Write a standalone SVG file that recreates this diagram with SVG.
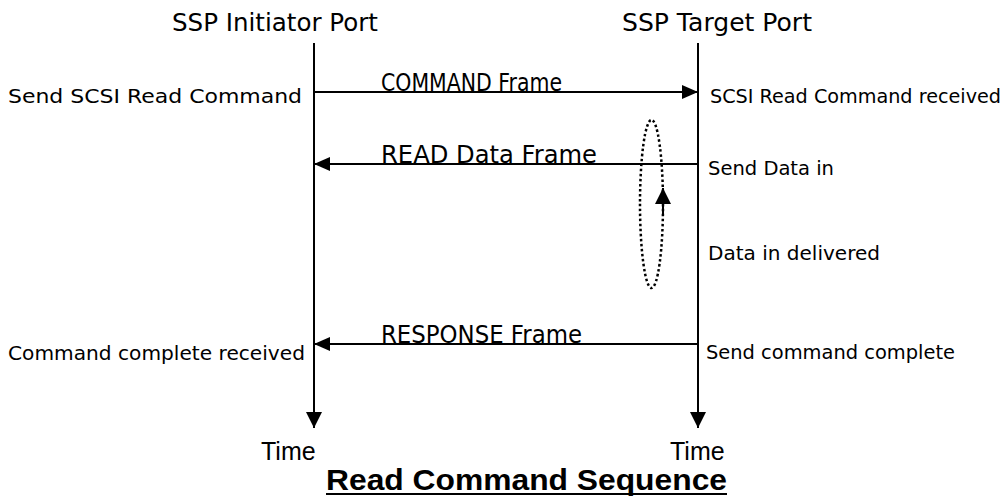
<svg xmlns="http://www.w3.org/2000/svg" width="1006" height="496" viewBox="0 0 1006 496">
  <style>
    .lbl { font-family: "DejaVu Sans", "Noto Sans", sans-serif; fill: #000; }
    .hdr { font-size: 24px; }
    .frm { font-size: 24px; }
    .sml { font-size: 19px; }
    .time { font-family: "Liberation Sans", Arial, sans-serif; font-size: 25px; fill: #000; }
    .cap { font-family: "Liberation Sans", Arial, sans-serif; font-size: 30px; font-weight: bold; fill: #000; }
    .line { stroke: #000; stroke-width: 2; fill: none; }
  </style>
  <defs>
    <marker id="head" viewBox="0 0 16 14" refX="16" refY="7" markerWidth="16" markerHeight="14" markerUnits="userSpaceOnUse" orient="auto">
      <path d="M0,0 L16,7 L0,14 Z" fill="#000"/>
    </marker>
    <marker id="head-big" viewBox="0 0 16 16" refX="16" refY="8" markerWidth="16" markerHeight="16" markerUnits="userSpaceOnUse" orient="auto">
      <path d="M0,0 L16,8 L0,16 Z" fill="#000"/>
    </marker>
  </defs>
  <rect width="1006" height="496" fill="#fff"/>

  <!-- lifeline headers -->
  <g id="initiator">
    <text class="lbl hdr" x="172" y="31" textLength="206" lengthAdjust="spacingAndGlyphs">SSP Initiator Port</text>
  </g>
  <g id="target">
    <text class="lbl hdr" x="622" y="31" textLength="190" lengthAdjust="spacingAndGlyphs">SSP Target Port</text>
  </g>

  <!-- connectors: lifelines, frames and the data-in loop -->
  <g id="connectors">
    <line class="line" x1="314" y1="43" x2="314" y2="428" marker-end="url(#head-big)"/>
    <line class="line" x1="698" y1="43" x2="698" y2="428" marker-end="url(#head-big)"/>
    <line class="line" x1="314" y1="92" x2="698" y2="92" marker-end="url(#head)"/>
    <line class="line" x1="698" y1="164" x2="314" y2="164" marker-end="url(#head)"/>
    <line class="line" x1="698" y1="344" x2="314" y2="344" marker-end="url(#head)"/>
    <ellipse cx="651.5" cy="204" rx="11.5" ry="84" fill="none" stroke="#000" stroke-width="2.5" stroke-dasharray="2.5 2.5"/>
    <line class="line" x1="663" y1="216" x2="663" y2="188" stroke-width="2.5" marker-end="url(#head-big)"/>
  </g>

  <!-- frame labels -->
  <g id="command-frame">
    <text class="lbl frm" x="381" y="91" textLength="181" lengthAdjust="spacingAndGlyphs">COMMAND Frame</text>
  </g>
  <g id="read-data-frame">
    <text class="lbl frm" x="381" y="163" textLength="216" lengthAdjust="spacingAndGlyphs">READ Data Frame</text>
  </g>
  <g id="response-frame">
    <text class="lbl frm" x="381" y="343" textLength="201" lengthAdjust="spacingAndGlyphs">RESPONSE Frame</text>
  </g>

  <!-- event labels -->
  <g id="send-read-command">
    <text class="lbl sml" x="8" y="103" textLength="294" lengthAdjust="spacingAndGlyphs">Send SCSI Read Command</text>
  </g>
  <g id="read-command-received">
    <text class="lbl sml" x="710" y="103" textLength="291" lengthAdjust="spacingAndGlyphs">SCSI Read Command received</text>
  </g>
  <g id="send-data-in">
    <text class="lbl sml" x="708" y="175" textLength="126" lengthAdjust="spacingAndGlyphs">Send Data in</text>
  </g>
  <g id="data-in-delivered">
    <text class="lbl sml" x="708" y="260" textLength="172" lengthAdjust="spacingAndGlyphs">Data in delivered</text>
  </g>
  <g id="send-command-complete">
    <text class="lbl sml" x="706" y="359" textLength="249" lengthAdjust="spacingAndGlyphs">Send command complete</text>
  </g>
  <g id="command-complete-received">
    <text class="lbl sml" x="8" y="360" textLength="297" lengthAdjust="spacingAndGlyphs">Command complete received</text>
  </g>

  <!-- time axes -->
  <g id="time-left">
    <text class="time" x="261" y="460">Time</text>
  </g>
  <g id="time-right">
    <text class="time" x="670" y="460">Time</text>
  </g>

  <!-- caption -->
  <g id="caption">
    <text class="cap" x="326" y="490" textLength="401" lengthAdjust="spacingAndGlyphs">Read Command Sequence</text>
    <line x1="326" y1="494" x2="727" y2="494" stroke="#000" stroke-width="2"/>
  </g>
</svg>
